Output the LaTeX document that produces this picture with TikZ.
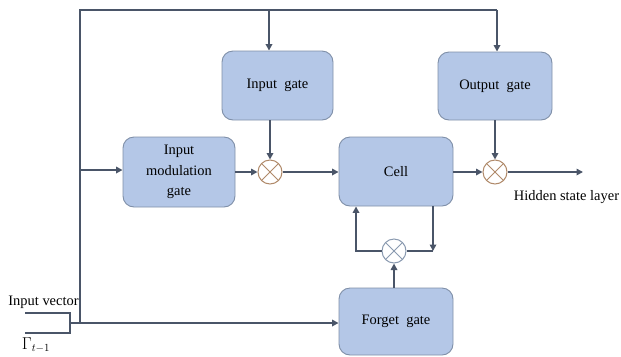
\documentclass[tikz,border=0pt]{standalone}
\usepackage{fontspec}
\setmainfont{Liberation Serif}
\usetikzlibrary{arrows.meta,calc}
\definecolor{linec}{HTML}{4A5568}
\definecolor{boxfill}{HTML}{B4C7E7}
\definecolor{boxdraw}{HTML}{7F8FA8}
\definecolor{mulbrown}{HTML}{B08A6A}
\definecolor{mulgray}{HTML}{8A9AB0}
\tikzset{
  gatebox/.style={draw=boxdraw, line width=0.9bp, fill=boxfill, rounded corners=11bp,
    minimum width=#1, inner sep=0pt, align=center,
    font=\fontsize{14.5}{20.5}\selectfont},
  gatebox/.default=112bp,
  mulnode/.style={circle, draw=#1, fill=white, line width=1bp, minimum size=24bp, inner sep=0pt,
    path picture={\draw[#1, line width=0.9bp]
      ([shift={(-45:12bp)}]path picture bounding box.center) -- ([shift={(135:12bp)}]path picture bounding box.center)
      ([shift={(45:12bp)}]path picture bounding box.center) -- ([shift={(-135:12bp)}]path picture bounding box.center);}},
  conn/.style={draw=linec, line width=1.9bp},
  arr/.style={conn, -{Triangle[length=6.5bp,width=6.5bp]}},
  lbl/.style={font=\fontsize{14.5}{17}\selectfont, inner sep=0pt}
}
\begin{document}
\begin{tikzpicture}[x=1bp,y=-1bp]
\useasboundingbox (0,0) rectangle (621,356);
% gates
\node[gatebox=111bp, minimum height=69bp] (ig) at (277.5,85.5) {Input\ \ gate};
\node[gatebox=112bp, minimum height=70bp] (imod) at (179,172) {Input\\modulation\\gate};
\node[gatebox=114bp, minimum height=69bp] (cell) at (396,171.5) {Cell};
\node[gatebox=114bp, minimum height=68bp] (og) at (495,86) {Output\ \ gate};
\node[gatebox=114bp, minimum height=67bp] (fg) at (396,321.5) {Forget\ \ gate};
% multipliers
\node[mulnode=mulbrown] (m1) at (270,172) {};
\node[mulnode=mulbrown] (m2) at (495,172) {};
\node[mulnode=mulgray] (m3) at (394,251) {};
% labels
\node[lbl] (hid) at (566.5,197) {Hidden state layer};
\node[lbl] (iv) at (43.5,302) {Input vector};
\node[lbl, font=\fontsize{16}{18}\selectfont] (gam) at (36,345) {$\Gamma_{t-1}$};
% coordinates
\coordinate (tl) at (80,10);
\coordinate (bl) at (80,323);
\coordinate (t1) at (269,10);
\coordinate (t2) at (497,10);
\coordinate (lm) at (80,170);
\coordinate (bx) at (70,323);
\coordinate (bu) at (70,313);
\coordinate (bd) at (70,333);
\coordinate (bu0) at (25,313);
\coordinate (bd0) at (25,333);
\coordinate (hend) at (583,172);
\coordinate (lr) at (433,251);
\coordinate (ll) at (356,251);
% connectors
\draw[conn] (bl) -- (tl) -- (t2);
\draw[arr] (t2) -- (t2 |- og.north);
\draw[arr] (t1) -- (t1 |- ig.north);
\draw[conn] (bu0) -- (bu) -- (bd) -- (bd0);
\draw[arr] (bx) -- (fg.west |- bx);
\draw[arr] (lm) -- (imod.west |- lm);
\draw[arr] (ig.south -| m1) -- (m1.north);
\draw[arr] (imod.east |- m1) -- (m1.west);
\draw[arr] (m1.east) -- (cell.west |- m1);
\draw[arr] (cell.east |- m2) -- (m2.west);
\draw[arr] (og.south -| m2) -- (m2.north);
\draw[arr] (m2.east) -- (hend);
\draw[arr] (fg.north -| m3) -- (m3.south);
\draw[arr] (cell.south -| lr) -- (lr);
\draw[conn] (lr) -- (m3.east);
\draw[arr] (m3.west) -- (ll) -- (ll |- cell.south);
\end{tikzpicture}
\end{document}
